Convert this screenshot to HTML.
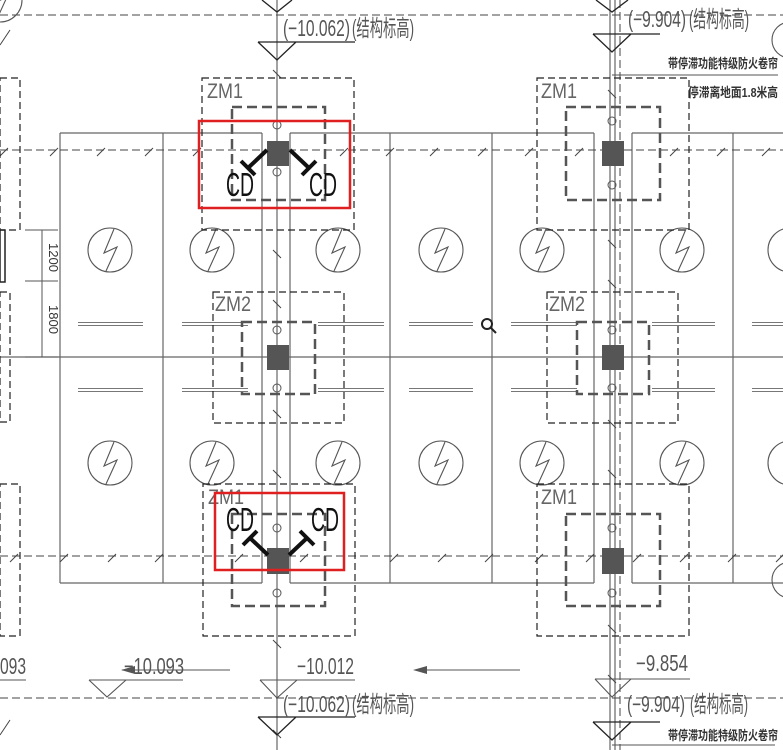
<!DOCTYPE html>
<html><head><meta charset="utf-8"><style>
html,body{margin:0;padding:0;background:#fff;}
svg{display:block;}
text{font-family:"Liberation Sans","Noto Sans CJK SC",sans-serif;}
</style></head><body>
<svg width="783" height="750" viewBox="0 0 783 750" xmlns="http://www.w3.org/2000/svg">
<rect width="783" height="750" fill="#fff"/>
<g stroke="#666" stroke-width="1.2" fill="none">
<line x1="60" y1="133" x2="262" y2="133"/><line x1="290" y1="133" x2="594" y2="133"/><line x1="632" y1="133" x2="783" y2="133"/>
<line x1="60" y1="583" x2="262" y2="583"/><line x1="290" y1="583" x2="594" y2="583"/><line x1="632" y1="583" x2="783" y2="583"/>
<line x1="0" y1="357" x2="783" y2="357"/>
<line x1="60" y1="133" x2="60" y2="583"/><line x1="163" y1="133" x2="163" y2="583"/>
<line x1="262" y1="133" x2="262" y2="583"/><line x1="290" y1="133" x2="290" y2="583"/>
<line x1="390" y1="133" x2="390" y2="583"/><line x1="492" y1="133" x2="492" y2="583"/>
<line x1="594" y1="133" x2="594" y2="583"/><line x1="632" y1="133" x2="632" y2="583"/>
<line x1="733" y1="133" x2="733" y2="583"/>
<line x1="277" y1="0" x2="277" y2="750"/>
<line x1="610" y1="0" x2="610" y2="750"/><line x1="615" y1="0" x2="615" y2="750"/>
</g>
<g stroke="#444" stroke-width="1" stroke-dasharray="8,4" fill="none">
<line x1="0" y1="15" x2="783" y2="15"/>
<line x1="0" y1="150" x2="783" y2="150"/>
<line x1="0" y1="556" x2="783" y2="556"/>
<line x1="0" y1="698" x2="783" y2="698"/>
<line x1="620" y1="0" x2="620" y2="750"/>
</g>
<g stroke="#444" stroke-width="1">
<path d="M0 156l8-8M50 156l8-8M97 156l8-8M145 156l8-8M193 156l8-8M340 156l8-8M386 156l8-8M430 156l8-8M478 156l8-8M525 156l8-8M575 156l8-8M670 156l8-8M717 156l8-8M762 156l8-8"/>
<path d="M10 562l8-8M60 562l8-8M108 562l8-8M155 562l8-8M235 562l8-8M300 562l8-8M390 562l8-8M438 562l8-8M485 562l8-8M535 562l8-8M586 562l8-8M633 562l8-8M680 562l8-8M728 562l8-8M776 562l8-8"/>
<path d="M273 70l8 8M273 250l8 8M273 300l8 8M273 410l8 8M273 470l8 8M273 640l8 8M273 730l8 8M608 90l8 8M608 240l8 8M608 280l8 8M608 420l8 8M608 470l8 8M608 625l8 8M608 675l8 8"/>
</g>
<g stroke="#777" stroke-width="1" fill="none">
<path d="M78 322.5h65M182 322.5h66M318 322.5h66M409 322.5h64M511 322.5h66M652 322.5h63M752 322.5h31"/>
<path d="M78 325.5h65M182 325.5h66M318 325.5h66M409 325.5h64M511 325.5h66M652 325.5h63M752 325.5h31"/>
<path d="M78 388.5h65M182 388.5h66M318 388.5h66M409 388.5h64M511 388.5h66M652 388.5h63M752 388.5h31"/>
<path d="M78 391.5h65M182 391.5h66M318 391.5h66M409 391.5h64M511 391.5h66M652 391.5h63M752 391.5h31"/>
</g>
<g stroke="#555" stroke-width="1.1" fill="none">
<g id="lt"><circle cx="0" cy="0" r="22"/><path d="M4 -21 L-6 3 L7 -3 L-4 21"/></g>
<use href="#lt" x="110" y="250"/><use href="#lt" x="212" y="250"/><use href="#lt" x="338" y="250"/><use href="#lt" x="441" y="250"/><use href="#lt" x="542" y="250"/><use href="#lt" x="682" y="250"/><use href="#lt" x="790" y="250"/>
<use href="#lt" x="110" y="463"/><use href="#lt" x="212" y="463"/><use href="#lt" x="338" y="463"/><use href="#lt" x="441" y="463"/><use href="#lt" x="542" y="463"/><use href="#lt" x="682" y="463"/><use href="#lt" x="790" y="463"/>
<circle cx="790" cy="40" r="18"/><circle cx="790" cy="580" r="18"/>
</g>
<g stroke="#222" stroke-width="1.2" stroke-dasharray="7,4" fill="none">
<rect x="202" y="78" width="152" height="152"/><rect x="537" y="78" width="152" height="152"/>
<rect x="213" y="292" width="131" height="131"/><rect x="547" y="292" width="131" height="131"/>
<rect x="203" y="484" width="152" height="152"/><rect x="537" y="484" width="152" height="152"/>
<rect x="0" y="78" width="20" height="152"/><rect x="0" y="292" width="10" height="130"/><rect x="0" y="484" width="20" height="152"/>
</g>
<g stroke="#555" stroke-width="2.5" stroke-dasharray="10,5" fill="none">
<rect x="232" y="107" width="93" height="93"/><rect x="566" y="107" width="94" height="93"/>
<rect x="242" y="322" width="73" height="72"/><rect x="577" y="322" width="72" height="72"/>
<rect x="232" y="514" width="93" height="92"/><rect x="566" y="514" width="94" height="92"/>
</g>
<rect x="0" y="230" width="5" height="52" fill="none" stroke="#222" stroke-width="1.5"/>
<g fill="#555">
<rect x="267" y="141" width="22" height="25"/><rect x="602" y="141" width="22" height="25"/>
<rect x="267" y="345" width="22" height="25"/><rect x="602" y="345" width="22" height="25"/>
<rect x="267" y="548" width="22" height="26"/><rect x="602" y="548" width="22" height="26"/>
</g>
<g stroke="#555" fill="none"><circle cx="277" cy="125" r="4"/><circle cx="277" cy="172" r="4"/><circle cx="277" cy="330" r="4"/><circle cx="277" cy="388" r="4"/><circle cx="277" cy="528" r="4"/><circle cx="277" cy="593" r="4"/>
<circle cx="612" cy="121" r="4"/><circle cx="612" cy="185" r="4"/><circle cx="612" cy="330" r="4"/><circle cx="612" cy="388" r="4"/><circle cx="612" cy="528" r="4"/><circle cx="612" cy="593" r="4"/></g>
<g fill="#666" font-size="21">
<text x="207" y="98" textLength="36" lengthAdjust="spacingAndGlyphs">ZM1</text>
<text x="541" y="98" textLength="36" lengthAdjust="spacingAndGlyphs">ZM1</text>
<text x="215" y="311" textLength="36" lengthAdjust="spacingAndGlyphs">ZM2</text>
<text x="549" y="311" textLength="36" lengthAdjust="spacingAndGlyphs">ZM2</text>
<text x="208" y="504" textLength="36" lengthAdjust="spacingAndGlyphs">ZM1</text>
<text x="541" y="504" textLength="36" lengthAdjust="spacingAndGlyphs">ZM1</text>
</g>
<rect x="199" y="121" width="151" height="87" fill="none" stroke="#e02020" stroke-width="2.5"/>
<rect x="215" y="493" width="129" height="77" fill="none" stroke="#e02020" stroke-width="2.5"/>
<g fill="#111" font-size="33">
<text x="226" y="196" textLength="28" lengthAdjust="spacingAndGlyphs">CD</text>
<text x="309" y="196" textLength="28" lengthAdjust="spacingAndGlyphs">CD</text>
<text x="226" y="531" textLength="28" lengthAdjust="spacingAndGlyphs">CD</text>
<text x="311" y="531" textLength="28" lengthAdjust="spacingAndGlyphs">CD</text>
</g>
<g stroke="#111" stroke-width="4" fill="none">
<path d="M267 150 L248 168 M241 161 L255 175"/>
<path d="M290 150 L309 168 M316 161 L302 175"/>
<path d="M268 555 L250 538 M243 545 L257 531"/>
<path d="M289 555 L307 538 M314 545 L300 531"/>
</g>
<g stroke="#555" stroke-width="1"><line x1="42" y1="230" x2="42" y2="357"/><line x1="25" y1="230" x2="58" y2="230"/><line x1="25" y1="281" x2="58" y2="281"/><line x1="25" y1="357" x2="58" y2="357"/></g>
<g fill="#333" font-size="13"><text transform="translate(49,243) rotate(90)">1200</text><text transform="translate(49,305) rotate(90)">1800</text></g>
<g stroke="#222" stroke-width="1.3" fill="none">
<path d="M262 0 L277 12 L292 0"/>
<path d="M258 42 H355 M258 42 L277 60 L296 42"/>
<path d="M596 0 L612 12 L628 0"/>
<path d="M593 34 H660 M593 34 L612 52 L631 34"/>
<path d="M258 717 H355 M258 717 L277 735 L296 717"/>
<path d="M593 722 H660 M593 722 L612 740 L631 722"/>
</g>
<g stroke="#555" stroke-width="1.1" fill="none">
<path d="M89 680 H183 M89 680 L107 697 L126 680"/>
<path d="M260 680 H355 M260 680 L277 698 L297 680"/>
<path d="M595 679 H690 M595 679 L612 697 L631 679"/>
<path d="M0 680 H26"/>
<path d="M122 670 H230"/><path d="M415 670 H520"/>
<path d="M612 75 H778"/><path d="M612 745 H775"/>
</g>
<g fill="#555"><path d="M121 670 l14 -4 v8z"/><path d="M413 670 l14 -4 v8z"/></g>
<g fill="#555" font-size="23">
<text x="283" y="36" textLength="67" lengthAdjust="spacingAndGlyphs">(−10.062)</text>
<text x="352" y="36" textLength="62" lengthAdjust="spacingAndGlyphs">(结构标高)</text>
<text x="628" y="27" textLength="58" lengthAdjust="spacingAndGlyphs">(−9.904)</text>
<text x="689" y="27" textLength="60" lengthAdjust="spacingAndGlyphs">(结构标高)</text>
<text x="283" y="712" textLength="67" lengthAdjust="spacingAndGlyphs">(−10.062)</text>
<text x="352" y="712" textLength="62" lengthAdjust="spacingAndGlyphs">(结构标高)</text>
<text x="627" y="712" textLength="58" lengthAdjust="spacingAndGlyphs">(−9.904)</text>
<text x="690" y="712" textLength="58" lengthAdjust="spacingAndGlyphs">(结构标高)</text>
<text x="0" y="674" textLength="26" lengthAdjust="spacingAndGlyphs">093</text>
<text x="124" y="674" textLength="60" lengthAdjust="spacingAndGlyphs">−10.093</text>
<text x="297" y="674" textLength="57" lengthAdjust="spacingAndGlyphs">−10.012</text>
<text x="636" y="671" textLength="52" lengthAdjust="spacingAndGlyphs">−9.854</text>
</g>
<g fill="#333" font-size="13" font-weight="bold">
<text x="668" y="68" textLength="110" lengthAdjust="spacingAndGlyphs">带停滞功能特级防火卷帘</text>
<text x="688" y="97" textLength="90" lengthAdjust="spacingAndGlyphs">停滞离地面1.8米高</text>
<text x="668" y="740" textLength="110" lengthAdjust="spacingAndGlyphs">带停滞功能特级防火卷帘</text>
</g>
<g stroke="#222" stroke-width="2" fill="none"><circle cx="487" cy="324" r="5"/><line x1="491" y1="328" x2="496" y2="333"/></g>
<g stroke="#444" stroke-width="1"><line x1="0" y1="735" x2="10" y2="720"/><line x1="0" y1="45" x2="10" y2="30"/></g>
</svg>
</body></html>
